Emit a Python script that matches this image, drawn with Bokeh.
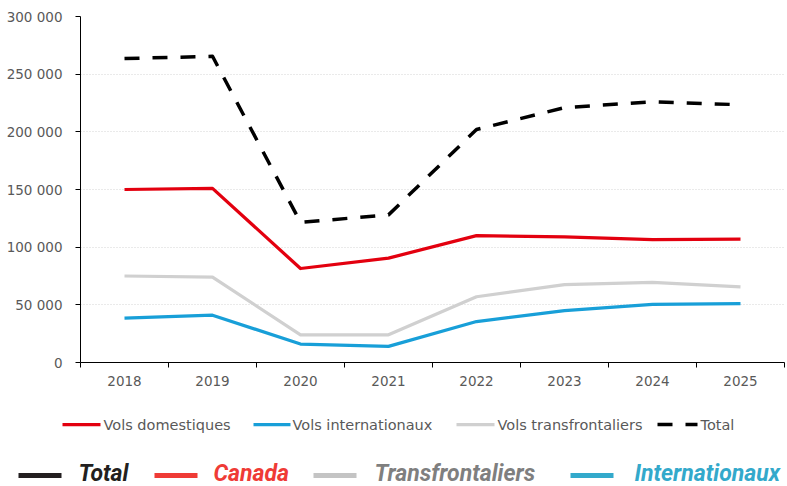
from bokeh.plotting import figure
from bokeh.models import Range1d, FixedTicker
from bokeh.core.properties import value
from bokeh.embed import file_html
from bokeh.resources import INLINE

# ---------------- data ----------------
YEARS = [2018, 2019, 2020, 2021, 2022, 2023, 2024, 2025]
DOMESTIC = [150000, 151000, 81500, 90500, 110000, 109000, 106500, 107000]
INTERNATIONAL = [38500, 41000, 16000, 14000, 35500, 45000, 50300, 51000]
TRANSBORDER = [75000, 74000, 24000, 24000, 57000, 67500, 69500, 65500]
TOTAL = [263500, 265500, 121500, 128000, 202000, 221000, 226000, 223500]

Y_TICKS = [0, 50000, 100000, 150000, 200000, 250000, 300000]
Y_TICK_LABELS = ["0", "50 000", "100 000", "150 000", "200 000", "250 000", "300 000"]

SERIES_NAMES = ["Vols domestiques", "Vols internationaux", "Vols transfrontaliers", "Total"]
SERIES_COLORS = ["#e3000f", "#189fd8", "#d0d0d0", "#000000"]

BOTTOM_LABELS = ["Total", "Canada", "Transfrontaliers", "Internationaux"]
BOTTOM_LINE_COLORS = ["#231f20", "#ef3b36", "#c4c4c4", "#33a9cb"]
BOTTOM_TEXT_COLORS = ["#231f20", "#ef3b36", "#7f7f7f", "#33a9cb"]

FONT = "DejaVu Sans"
TXT = "#595959"
DASH = "15 13"
W, H = 787, 486
FL, FR, FT, FB = 80, 784, 16, 362   # frame edges in page pixels
X0, X1 = YEARS[0] - 0.5, YEARS[-1] + 0.5
Y0, Y1 = Y_TICKS[0], Y_TICKS[-1]

# ---------------- main chart ----------------
p = figure(width=W, height=H, output_backend="svg", toolbar_location=None,
           x_range=Range1d(X0, X1), y_range=Range1d(Y0, Y1),
           min_border_left=FL, min_border_right=W - FR, min_border_top=FT,
           min_border_bottom=H - FB)
p.outline_line_color = None
p.background_fill_color = "white"
p.border_fill_color = "white"

p.line(YEARS, DOMESTIC, line_color=SERIES_COLORS[0], line_width=3.25, line_join="round")
p.line(YEARS, INTERNATIONAL, line_color=SERIES_COLORS[1], line_width=3.25, line_join="round")
p.line(YEARS, TRANSBORDER, line_color=SERIES_COLORS[2], line_width=3.25, line_join="round")
p.line(YEARS, TOTAL, line_color=SERIES_COLORS[3], line_width=3.5,
       line_dash=DASH, line_join="round")

# axes
xa = p.xaxis[0]
xa.ticker = FixedTicker(ticks=YEARS,
                        minor_ticks=[y - 0.5 for y in YEARS] + [YEARS[-1] + 0.5])
xa.major_label_overrides = {y: str(y) for y in YEARS}
xa.major_tick_out = 0
xa.major_tick_in = 0
xa.minor_tick_out = 5
xa.minor_tick_in = 0
xa.minor_tick_line_color = "black"
xa.axis_line_color = "black"
xa.major_label_standoff = 8
xa.major_label_text_font = FONT
xa.major_label_text_font_size = "13.5px"
xa.major_label_text_color = TXT

ya = p.yaxis[0]
ya.ticker = FixedTicker(ticks=Y_TICKS, minor_ticks=[])
ya.major_label_overrides = {t: l for t, l in zip(Y_TICKS, Y_TICK_LABELS)}
ya.major_tick_out = 5
ya.major_tick_in = 0
ya.major_tick_line_color = "black"
ya.axis_line_color = "black"
ya.major_label_standoff = 13
ya.major_label_text_font = FONT
ya.major_label_text_font_size = "13.5px"
ya.major_label_text_color = TXT

p.xgrid.grid_line_color = None
p.ygrid.ticker = FixedTicker(ticks=Y_TICKS)
p.ygrid.grid_line_color = "#d4d4d4"
p.ygrid.grid_line_dash = "1 2"
p.ygrid.grid_line_width = 1


# ---------------- legends (overlay level, drawn outside the frame) ----------------
def px_x(px):
    return X0 + (px - FL) * (X1 - X0) / (FR - FL)


def px_y(py):
    return Y0 + (FB - py) * (Y1 - Y0) / (FB - FT)


# chart legend
LEG_Y = 424
LEG_X0 = [62, 253, 456, 657]
LEG_X1 = [100, 290, 494, 697]
LEG_TX = [103, 292, 497, 700]
for i in range(4):
    dash = DASH if i == 3 else "solid"
    lw = 3.5 if i == 3 else 3.25
    p.line([px_x(LEG_X0[i]), px_x(LEG_X1[i])], [px_y(LEG_Y), px_y(LEG_Y)],
           line_color=SERIES_COLORS[i], line_width=lw, line_dash=dash, level="overlay")
p.text(x=[px_x(v) for v in LEG_TX], y=[px_y(LEG_Y)] * 4, text=SERIES_NAMES,
       text_font=value(FONT), text_font_size="14.5px", text_color=TXT,
       text_baseline="middle", text_align="left", level="overlay")

# bottom strip
BOT_Y = 473
BOT_X0 = [18, 154, 313, 570]
BOT_X1 = [61, 197, 356, 613]
BOT_TX = [78, 213, 374, 634]
for i in range(4):
    p.line([px_x(BOT_X0[i]), px_x(BOT_X1[i])], [px_y(BOT_Y + 2)] * 2,
           line_color=BOTTOM_LINE_COLORS[i], line_width=5, level="overlay")
p.text(x=[px_x(v) for v in BOT_TX], y=[px_y(BOT_Y)] * 4, text=BOTTOM_LABELS,
       text_font=value("Roboto"), text_font_style="bold italic",
       text_font_size="23px", text_color=BOTTOM_TEXT_COLORS,
       text_baseline="middle", text_align="left", level="overlay")

open("out.html", "w").write(file_html(p, INLINE))
